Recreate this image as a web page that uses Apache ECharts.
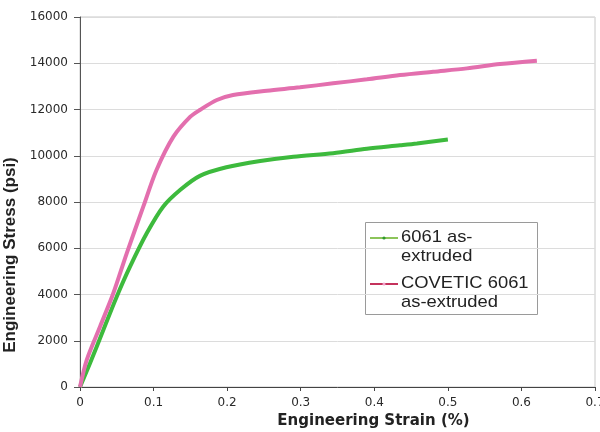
<!DOCTYPE html>
<html>
<head>
<meta charset="utf-8">
<script src="https://cdn.jsdelivr.net/npm/echarts@6/dist/echarts.min.js"></script>
<style>
  html, body { margin: 0; padding: 0; background: #fff; }
  #stressStrain { width: 600px; height: 432px; }
</style>
</head>
<body>
<div id="stressStrain"></div>
<script>
// values (strain in %, stress in psi)
var strain6061 = [0, 0.0136, 0.0317, 0.0499, 0.068, 0.0907, 0.113, 0.136, 0.163, 0.199, 0.245, 0.29, 0.344, 0.39, 0.435, 0.458, 0.5]
var stress6061 = [0, 1025, 2465, 3905, 5202, 6646, 7796, 8518, 9130, 9500, 9770, 9958, 10110, 10300, 10450, 10530, 10700]

var strainCovetic = [0, 0.0091, 0.0272, 0.0453, 0.0635, 0.086, 0.104, 0.127, 0.150, 0.163, 0.186, 0.208, 0.254, 0.299, 0.344, 0.39, 0.435, 0.48, 0.526, 0.571, 0.621]
var stressCovetic = [0, 1167, 2608, 4052, 5781, 7797, 9384, 10824, 11688, 11980, 12410, 12627, 12813, 12958, 13131, 13304, 13491, 13634, 13778, 13966, 14110]

var seriesNames = ['6061 as-\nextruded', 'COVETIC 6061\nas-extruded']

function zip (xs, ys) {
  return xs.map(function (x, i) { return [x, ys[i]] })
}

var chart = echarts.init(document.getElementById('stressStrain'))

var tickFont = {
  fontFamily: 'DejaVu Sans',
  fontSize: 12,
  color: '#2a2a2a'
}

// legend drawn by hand so the two-line labels sit like the original
function legendItem (top, lineColor, dotColor, text) {
  return [
    {
      type: 'line',
      shape: { x1: 370, y1: top, x2: 398, y2: top },
      style: { stroke: lineColor, lineWidth: 2 }
    },
    {
      type: 'circle',
      shape: { cx: 384, cy: top, r: 1.6 },
      style: { fill: dotColor }
    },
    {
      type: 'text',
      x: 401,
      y: top - 10,
      scaleX: 1.08,
      style: {
        text: text,
        fontFamily: 'Liberation Sans',
        fontSize: 17,
        lineHeight: 19,
        fill: '#222',
        textVerticalAlign: 'top'
      }
    }
  ]
}

var option = {
  animation: false,
  backgroundColor: '#fff',
  grid: {
    left: 80,
    right: 5,
    top: 17,
    bottom: 45,
    containLabel: false,
    outerBoundsMode: 'none',
    show: true,
    borderColor: '#c8c8c8',
    borderWidth: 1
  },
  xAxis: {
    type: 'value',
    min: 0,
    max: 0.7,
    interval: 0.1,
    name: 'Engineering Strain (%)',
    nameLocation: 'middle',
    nameGap: 26,
    nameTextStyle: {
      fontFamily: 'DejaVu Sans',
      fontWeight: 'bold',
      fontSize: 15,
      color: '#222',
      padding: [0, 0, 0, 72]
    },
    axisLine: { show: true, lineStyle: { color: '#444', width: 1 } },
    axisTick: { show: true, length: 4, lineStyle: { color: '#444' } },
    axisLabel: Object.assign({ margin: 10 }, tickFont),
    splitLine: { show: false }
  },
  yAxis: {
    type: 'value',
    min: 0,
    max: 16000,
    interval: 2000,
    name: 'Engineering Stress (psi)',
    nameLocation: 'middle',
    nameGap: 54,
    nameTextStyle: {
      fontFamily: 'Liberation Sans',
      fontWeight: 'bold',
      fontSize: 17,
      color: '#222',
      padding: [0, 106, 0, 0]
    },
    axisLine: { show: true, lineStyle: { color: '#555', width: 1 } },
    axisTick: { show: true, length: 6, lineStyle: { color: '#555' } },
    axisLabel: Object.assign({
      margin: 12,
      formatter: function (v) { return String(v) }
    }, tickFont),
    splitLine: { show: true, lineStyle: { color: '#dcdcdc', width: 1 } }
  },
  series: [
    {
      name: seriesNames[0],
      type: 'line',
      data: zip(strain6061, stress6061),
      smooth: 0.3,
      showSymbol: false,
      lineStyle: { color: '#3dba3d', width: 4 },
      itemStyle: { color: '#3dba3d' }
    },
    {
      name: seriesNames[1],
      type: 'line',
      data: zip(strainCovetic, stressCovetic),
      smooth: 0.3,
      showSymbol: false,
      lineStyle: { color: '#e36fae', width: 4 },
      itemStyle: { color: '#e36fae' }
    }
  ],
  graphic: [
    {
      type: 'group',
      children: [
        {
          type: 'rect',
          shape: { x: 365.5, y: 222.5, width: 172, height: 92 },
          style: { fill: '#fff', stroke: '#9a9a9a', lineWidth: 1 }
        }
      ].concat(
        legendItem(238, '#8cc45a', '#2f9a2f', seriesNames[0]),
        legendItem(284, '#c4325c', '#f2a0c8', seriesNames[1])
      )
    }
  ]
}

chart.setOption(option)
</script>
</body>
</html>
